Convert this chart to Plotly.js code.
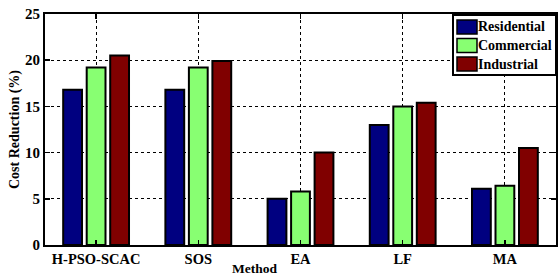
<!DOCTYPE html>
<html><head><meta charset="utf-8">
<script src="https://cdn.plot.ly/plotly-3.0.1.min.js"></script>
<style>html,body{margin:0;padding:0;background:#fff}</style>
</head><body>
<div id="chart" style="width:559px;height:276px"></div>
<script>
const methods = ["H-PSO-SCAC", "SOS", "EA", "LF", "MA"];
const residential = [16.8, 16.8, 5.0, 13.0, 6.1];
const commercial = [19.2, 19.2, 5.8, 15.0, 6.4];
const industrial = [20.5, 19.9, 10.0, 15.4, 10.5];
const seriesNames = ["Residential", "Commercial", "Industrial"];
const seriesColors = ["#000080", "#88ff72", "#800000"];
const yTicks = [0, 5, 10, 15, 20, 25];

const FAM = 'Liberation Serif, Times New Roman, serif';
const b = (s) => "<b>" + s + "</b>";
const vals = [residential, commercial, industrial];
const traces = vals.map((v, i) => ({
  type: "bar", x: methods, y: v, name: seriesNames[i], showlegend: false,
  marker: {color: seriesColors[i], line: {color: "#000", width: 2}}
}));

const fnt = (size) => ({family: FAM, size: size, color: "#000"});

// plot area geometry in pixels (for legend drawn in paper coords)
const W = 559, H = 276, ML = 45, MR = 3, MT = 14, MB = 31;
const PW = W - ML - MR, PH = H - MT - MB;
const px = (x) => (x - ML) / PW;
const py = (y) => (H - MB - y) / PH;

const shapes = [{
  type: "rect", xref: "paper", yref: "paper",
  x0: px(453), x1: px(556), y0: py(75), y1: py(15),
  fillcolor: "#fff", line: {color: "#000", width: 2}, layer: "above"
}];
const annotations = [{
  text: b("Method"), xref: "paper", yref: "paper", x: px(254), y: 0,
  xanchor: "center", yanchor: "top", yshift: -14, showarrow: false,
  font: fnt(13.5)
}];
seriesNames.forEach((name, i) => {
  const top = 20 + i * 18.5;
  shapes.push({
    type: "rect", xref: "paper", yref: "paper",
    x0: px(457), x1: px(477), y0: py(top + 14), y1: py(top),
    fillcolor: seriesColors[i], line: {color: "#000", width: 1.5}, layer: "above"
  });
  annotations.push({
    text: b(name), xref: "paper", yref: "paper", x: px(476), y: py(top + 7),
    xanchor: "left", yanchor: "middle", showarrow: false, font: fnt(14)
  });
});

const layout = {
  width: W, height: H,
  margin: {l: ML, r: MR, t: MT, b: MB},
  paper_bgcolor: "#fff", plot_bgcolor: "#fff",
  barmode: "group", bargap: 0.31, bargroupgap: 0.2,
  font: fnt(13),
  showlegend: false,
  xaxis: {
    tickvals: methods, ticktext: methods.map(b),
    showline: true, linecolor: "#000", linewidth: 2, mirror: "ticks",
    ticks: "inside", ticklen: 5, tickwidth: 1.5, tickcolor: "#000",
    showgrid: true, gridcolor: "#000", griddash: "dot", gridwidth: 1,
    tickfont: fnt(14.5), zeroline: false
  },
  yaxis: {
    range: [0, 25], tickvals: yTicks, ticktext: yTicks.map(v => b(String(v))),
    showline: true, linecolor: "#000", linewidth: 2, mirror: "ticks",
    ticks: "inside", ticklen: 5, tickwidth: 1.5, tickcolor: "#000",
    showgrid: true, gridcolor: "#000", griddash: "dot", gridwidth: 1,
    zeroline: false, tickfont: fnt(15),
    title: {text: b("Cost Reduction (%)"), standoff: 2, font: fnt(14)}
  },
  shapes: shapes,
  annotations: annotations
};
Plotly.newPlot("chart", traces, layout, {displayModeBar: false, staticPlot: true});
</script>
</body></html>
